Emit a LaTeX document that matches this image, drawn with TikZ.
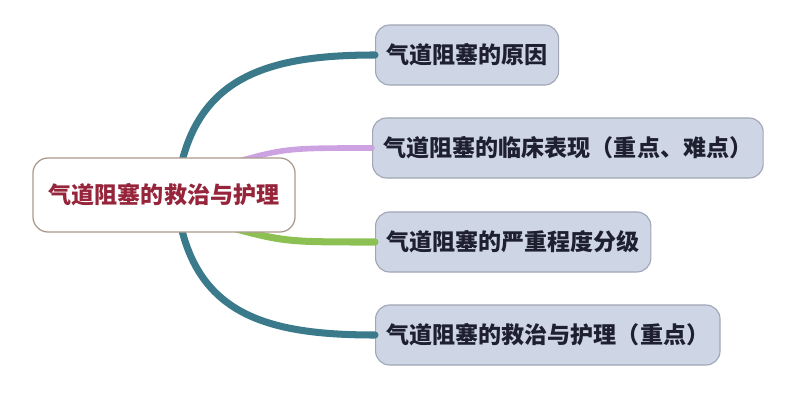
\documentclass[tikz,border=0pt]{standalone}
\usepackage{fontspec}
\setmainfont{Noto Sans CJK SC}
\usepackage{xcolor}
\definecolor{rootred}{RGB}{150,36,58}
\definecolor{rootline}{RGB}{170,152,140}
\definecolor{topicfill}{RGB}{206,214,230}
\definecolor{topicline}{RGB}{160,166,180}
\definecolor{topictext}{RGB}{30,32,48}
\definecolor{branchteal}{RGB}{58,122,138}
\definecolor{branchpurple}{RGB}{204,162,226}
\definecolor{branchgreen}{RGB}{140,192,82}

\begin{document}
\begin{tikzpicture}[x=0.025cm, y=-0.025cm,
    root/.style={draw=rootline, line width=0.9pt, fill=white, rounded corners=0.38cm,
        minimum width=6.55cm, minimum height=1.85cm, font=\fontsize{16.4}{19}\selectfont\bfseries, text=rootred},
    topic/.style={draw=topicline, line width=0.8pt, fill=topicfill, rounded corners=0.35cm,
        minimum height=1.5cm, inner xsep=0.27cm, anchor=west, font=\fontsize{16.4}{19}\selectfont\bfseries, text=topictext},
    branch/.style={line width=5pt, line cap=round}]
    \useasboundingbox (0,0) rectangle (788,400);

    % Topics
    \node[topic] (cause) at (375,55) {气道阻塞的原因};
    \node[topic] (sign) at (372,148) {气道阻塞的临床表现（重点、难点）};
    \node[topic] (grade) at (375,242) {气道阻塞的严重程度分级};
    \node[topic] (care) at (375,335) {气道阻塞的救治与护理（重点）};

    % Branches (behind the root)
    \coordinate (hub) at (176,196);
    \coordinate (hubup) at (225,165);
    \coordinate (hubdown) at (225,226);
    \draw[branch, branchteal] (hub) .. controls (188,80) and (260,55) .. (cause.west);
    \draw[branch, branchteal] (hub) .. controls (188,312) and (260,335) .. (care.west);
    \draw[branch, branchpurple, line width=4pt] (hubup) .. controls (285,148) .. (sign.west);
    \draw[branch, branchgreen] (hubdown) .. controls (285,242) .. (grade.west);

    % Root
    \node[root] (root) at (164,195) {气道阻塞的救治与护理};

\end{tikzpicture}
\end{document}
